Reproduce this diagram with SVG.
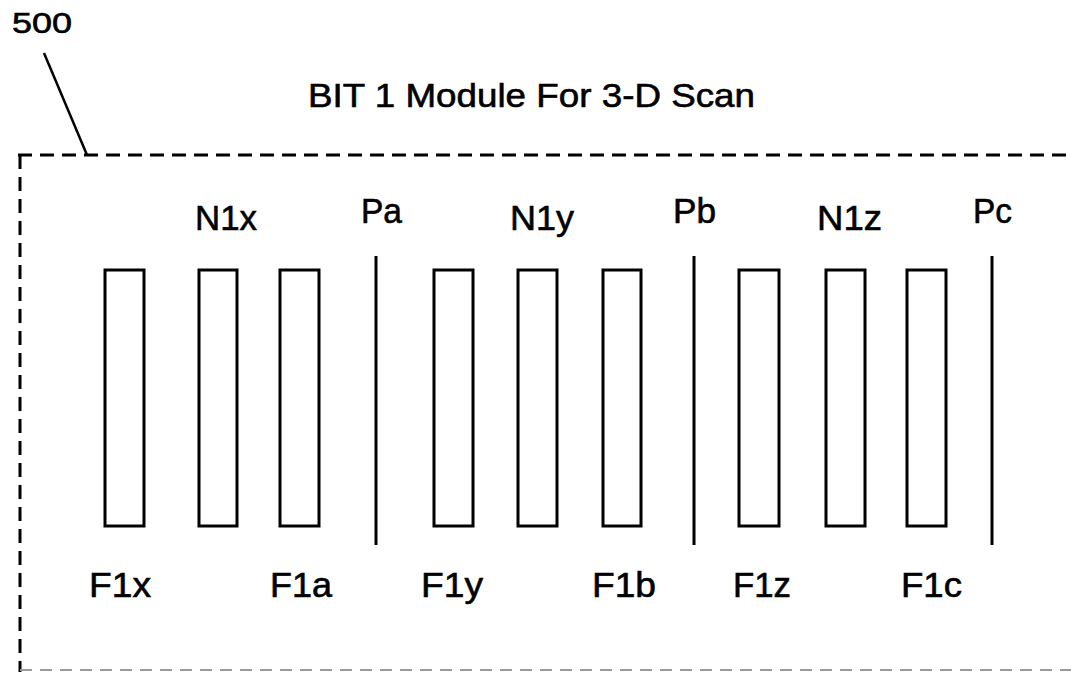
<svg xmlns="http://www.w3.org/2000/svg" width="1071" height="676" viewBox="0 0 1071 676">
<style>
text{font-family:"Liberation Sans",Arial,sans-serif;fill:#000;stroke:#000;stroke-width:0.6}
.lbl{font-size:35px}
.el{fill:#fff;stroke:#000;stroke-width:3}
.pl{stroke:#000;stroke-width:3}
.dash{fill:none;stroke:#000;stroke-width:3;stroke-dasharray:14,8}
</style>
<rect width="1071" height="676" fill="#fff"/>
<g id="module-500">
<text x="12" y="33" font-size="29" textLength="60" lengthAdjust="spacingAndGlyphs">500</text>
<line x1="44" y1="53" x2="87" y2="155" stroke="#000" stroke-width="2.5"/>
<path class="dash" d="M18,155 H1071"/>
<path class="dash" d="M20,155 V672"/>
<path d="M20,670 H1071" fill="none" stroke="#999" stroke-width="2" stroke-dasharray="12,8"/>
<text x="308" y="107" font-size="33" textLength="447" lengthAdjust="spacingAndGlyphs">BIT 1 Module For 3-D Scan</text>
</g>
<g id="F1x"><rect class="el" x="105" y="270" width="39" height="256"/><text class="lbl" x="89" y="597" textLength="62" lengthAdjust="spacingAndGlyphs">F1x</text></g>
<g id="N1x"><rect class="el" x="199" y="270" width="38" height="256"/><text class="lbl" x="195" y="230" textLength="62" lengthAdjust="spacingAndGlyphs">N1x</text></g>
<g id="F1a"><rect class="el" x="280" y="270" width="39" height="256"/><text class="lbl" x="270" y="597" textLength="62" lengthAdjust="spacingAndGlyphs">F1a</text></g>
<g id="Pa"><line class="pl" x1="376" y1="256" x2="376" y2="545"/><text class="lbl" x="361" y="223" textLength="41" lengthAdjust="spacingAndGlyphs">Pa</text></g>
<g id="F1y"><rect class="el" x="434" y="270" width="39" height="256"/><text class="lbl" x="421" y="597" textLength="62" lengthAdjust="spacingAndGlyphs">F1y</text></g>
<g id="N1y"><rect class="el" x="518" y="270" width="39" height="256"/><text class="lbl" x="510" y="230" textLength="64" lengthAdjust="spacingAndGlyphs">N1y</text></g>
<g id="F1b"><rect class="el" x="603" y="270" width="38" height="256"/><text class="lbl" x="592" y="597" textLength="64" lengthAdjust="spacingAndGlyphs">F1b</text></g>
<g id="Pb"><line class="pl" x1="694" y1="256" x2="694" y2="545"/><text class="lbl" x="673" y="223" textLength="43" lengthAdjust="spacingAndGlyphs">Pb</text></g>
<g id="F1z"><rect class="el" x="739" y="270" width="40" height="256"/><text class="lbl" x="733" y="597" textLength="58" lengthAdjust="spacingAndGlyphs">F1z</text></g>
<g id="N1z"><rect class="el" x="826" y="270" width="39" height="256"/><text class="lbl" x="817" y="230" textLength="65" lengthAdjust="spacingAndGlyphs">N1z</text></g>
<g id="F1c"><rect class="el" x="907" y="270" width="39" height="256"/><text class="lbl" x="901" y="597" textLength="61" lengthAdjust="spacingAndGlyphs">F1c</text></g>
<g id="Pc"><line class="pl" x1="992" y1="256" x2="992" y2="545"/><text class="lbl" x="973" y="223" textLength="39" lengthAdjust="spacingAndGlyphs">Pc</text></g>
<g id="connectors"></g>
</svg>
